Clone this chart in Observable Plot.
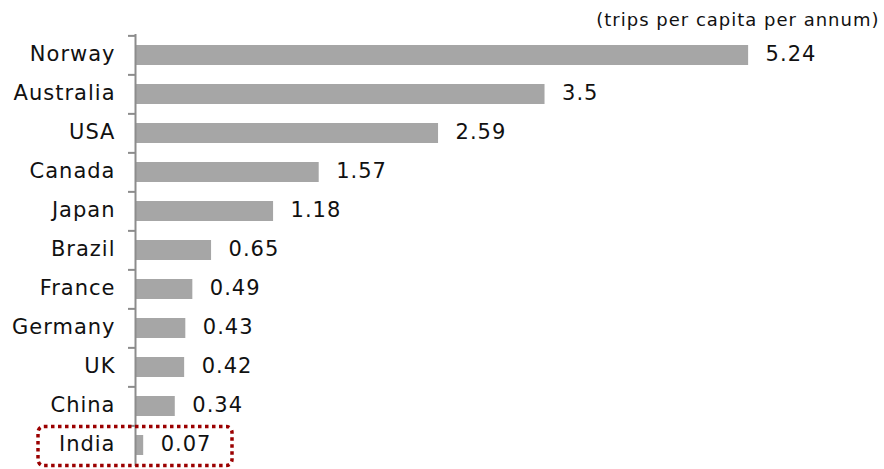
<!DOCTYPE html>
<html><head>
<meta charset="utf-8">
<script src="https://cdn.jsdelivr.net/npm/d3@7"></script>
<script src="https://cdn.jsdelivr.net/npm/@observablehq/plot@0.6"></script>
<style>body{margin:0;background:#fff}</style>
</head><body><div id="chart"></div>
<script>
const countries = ["Norway","Australia","USA","Canada","Japan","Brazil","France","Germany","UK","China","India"];
const trips = [5.24, 3.5, 2.59, 1.57, 1.18, 0.65, 0.49, 0.43, 0.42, 0.34, 0.07];
const highlight = "India";
const unitNote = "(trips per capita per annum)";

const data = countries.map((c, i) => ({country: c, value: trips[i]}));
const W = 884, H = 469, mTop = 34, mBottom = 3, mLeft = 135, mRight = 6;
const step = (H - mTop - mBottom) / countries.length;
const padIn = 0.49;
const axisColor = "#8c8c8c";

const chart = Plot.plot({
  width: W, height: H,
  marginTop: mTop, marginBottom: mBottom, marginLeft: mLeft, marginRight: mRight,
  style: {fontFamily: "DejaVu Sans", fontSize: "21px", letterSpacing: "1px", background: "#fff", color: "#111"},
  x: {domain: [0, 6.35], axis: null},
  y: {domain: countries, paddingInner: padIn, paddingOuter: padIn / 2, axis: null},
  marks: [
    Plot.barX(data, {x: "value", y: "country", fill: "#a6a6a6"}),
    Plot.ruleX([0], {stroke: axisColor, strokeWidth: 2}),
    Plot.axisY({tickSize: 0, tickPadding: 20, fontSize: 21, dy: -1, label: null}),
    Plot.axisY({tickSize: 7, tickFormat: () => "", stroke: axisColor, strokeWidth: 2, dy: -step / 2, label: null}),
    Plot.text(data, {x: "value", y: "country", text: d => String(d.value), dx: 17, dy: -1, textAnchor: "start", fontSize: 21}),
    Plot.text([unitNote], {frameAnchor: "top-right", lineAnchor: "middle", dy: -14, dx: 1, fontSize: 18}),
    Plot.barX(data.filter(d => d.country === highlight), {
      y: "country", x1: 0, x2: 0,
      insetLeft: -97, insetRight: -97, insetTop: -(step * padIn / 2) + 1, insetBottom: -(step * padIn / 2) - 1,
      rx: 6, fill: "none", stroke: "#9b0000", strokeWidth: 3.5, strokeDasharray: "3.5,3.5"
    })
  ]
});
document.getElementById("chart").appendChild(chart);
</script>
</body></html>
